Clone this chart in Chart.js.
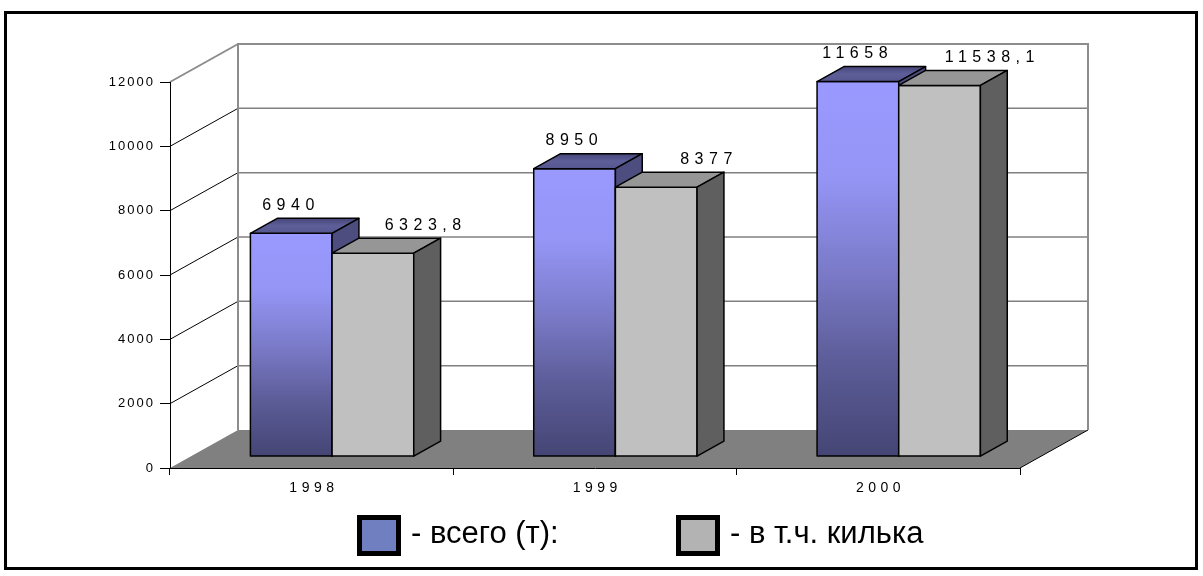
<!DOCTYPE html>
<html>
<head>
<meta charset="utf-8">
<script src="https://cdn.jsdelivr.net/npm/chart.js@4.4.1/dist/chart.umd.min.js"></script>
<style>
  html, body { margin: 0; padding: 0; background: #fff; }
  canvas { display: block; }
</style>
</head>
<body>
<canvas id="catchChart" width="1203" height="576"></canvas>
<script>
const years = ['1998', '1999', '2000'];
const totalCatch = [6940, 8950, 11658];
const spratCatch = [6323.8, 8377, 11538.1];
const seriesNames = ['- всего (т):', '- в т.ч. килька'];
const yTicks = [0, 2000, 4000, 6000, 8000, 10000, 12000];

const FONT = "'Liberation Sans', Arial, sans-serif";

// floor depth in px and the slab of it the boxes stand in
const DEPTH = { dx: 68, dy: -38 };
const BAR_Z = [0.3, 0.695];

const palette = [
  { front: ['#9999ff', '#9595f6', '#7b7bca', '#5c5c98', '#454575'], top: ['#56568f', '#5e5e99', '#46467a'], side: '#4d4d80', legend: '#6f7fbf', labelShift: -3 },
  { front: ['#c0c0c0'], top: ['#969696'], side: '#5f5f5f', legend: '#b3b3b3', labelShift: 50 }
];

const LEGEND = { x: [357, 676], y: 515, w: 44, h: 41, border: 5, gap: 10, baseline: 543, size: 31 };

function fmt(v) {
  return String(v).replace('.', ',');
}

function fillOf(ctx, stops, y1, y2) {
  if (stops.length === 1) return stops[0];
  const g = ctx.createLinearGradient(0, y1, 0, y2);
  stops.forEach((c, k) => g.addColorStop(k / (stops.length - 1), c));
  return g;
}

// run a scale's label drawing with extra letter spacing
function spaceLabels(scale, px) {
  if (scale.$spaced) return;
  const draw = scale.drawLabels;
  scale.drawLabels = function (area) {
    this.ctx.save();
    this.ctx.letterSpacing = px + 'px';
    this.ctx.translate(this.isHorizontal() ? px / 2 : px, 0);
    draw.call(this, area);
    this.ctx.restore();
  };
  scale.$spaced = true;
}

const box3d = {
  id: 'box3d',
  beforeDraw(chart) {
    const { ctx, chartArea: a } = chart;
    const yS = chart.scales.y;
    const { dx, dy } = DEPTH;
    const last = yTicks[yTicks.length - 1];
    const y0 = yS.getPixelForValue(yTicks[0]);
    const yTop = yS.getPixelForValue(last);

    ctx.save();
    ctx.fillStyle = '#fff';
    ctx.fillRect(0, 0, chart.width, chart.height);

    // outer frame
    ctx.strokeStyle = '#000';
    ctx.lineWidth = 3;
    ctx.strokeRect(5.5, 12.5, 1191, 556);

    // floor
    ctx.fillStyle = '#808080';
    ctx.beginPath();
    ctx.moveTo(a.left, y0);
    ctx.lineTo(a.right, y0);
    ctx.lineTo(a.right + dx, y0 + dy);
    ctx.lineTo(a.left + dx, y0 + dy);
    ctx.closePath();
    ctx.fill();
    ctx.strokeStyle = '#000';
    ctx.lineWidth = 1;
    ctx.beginPath();
    ctx.moveTo(a.right, y0);
    ctx.lineTo(a.right + dx, y0 + dy);
    ctx.stroke();

    // side wall gridlines
    yTicks.slice(1).forEach(v => {
      const py = yS.getPixelForValue(v);
      ctx.strokeStyle = v === last ? '#8c8c8c' : '#000';
      ctx.lineWidth = v === last ? 2 : 1;
      ctx.beginPath();
      ctx.moveTo(a.left, py);
      ctx.lineTo(a.left + dx, py + dy);
      ctx.stroke();
    });

    // back wall gridlines
    ctx.strokeStyle = '#808080';
    ctx.lineWidth = 1.5;
    yTicks.slice(1, -1).forEach(v => {
      const py = yS.getPixelForValue(v) + dy;
      ctx.beginPath();
      ctx.moveTo(a.left + dx, py);
      ctx.lineTo(a.right + dx, py);
      ctx.stroke();
    });

    // back wall outline
    ctx.strokeStyle = '#8c8c8c';
    ctx.lineWidth = 2;
    ctx.beginPath();
    ctx.moveTo(a.left + dx, y0 + dy);
    ctx.lineTo(a.left + dx, yTop + dy);
    ctx.lineTo(a.right + dx, yTop + dy);
    ctx.lineTo(a.right + dx, y0 + dy);
    ctx.stroke();
    ctx.restore();
  },

  afterDatasetsDraw(chart) {
    const { ctx } = chart;
    const { dx, dy } = DEPTH;
    const [z1, z2] = BAR_Z;
    const P = (px, py, z) => [px + z * dx, py + z * dy];
    const face = (pts, fill) => {
      ctx.beginPath();
      ctx.moveTo(pts[0][0], pts[0][1]);
      pts.slice(1).forEach(p => ctx.lineTo(p[0], p[1]));
      ctx.closePath();
      ctx.fillStyle = fill;
      ctx.fill();
      ctx.stroke();
    };

    ctx.save();
    ctx.strokeStyle = '#000';
    ctx.lineWidth = 1.5;
    ctx.lineJoin = 'round';
    const labels = [];
    years.forEach((_, i) => {
      chart.data.datasets.forEach((ds, d) => {
        const { x, y, base, width } = chart.getDatasetMeta(d).data[i].getProps(['x', 'y', 'base', 'width'], true);
        const l = x - width / 2, r = x + width / 2;
        const c = palette[d];
        face([P(l, y, z1), P(r, y, z1), P(r, base, z1), P(l, base, z1)],
             fillOf(ctx, c.front, y + z1 * dy, base + z1 * dy));
        face([P(l, y, z1), P(r, y, z1), P(r, y, z2), P(l, y, z2)],
             fillOf(ctx, c.top, y + z1 * dy, y + z2 * dy));
        face([P(r, y, z1), P(r, y, z2), P(r, base, z2), P(r, base, z1)], c.side);
        labels.push({ text: fmt(ds.data[i]), x: x + z1 * dx + c.labelShift, y: y + z2 * dy - 13 });
      });
    });

    // value labels above the boxes
    const sp = 5.5;
    ctx.letterSpacing = sp + 'px';
    ctx.font = `16px ${FONT}`;
    ctx.fillStyle = '#000';
    ctx.textAlign = 'center';
    ctx.textBaseline = 'middle';
    labels.forEach(t => ctx.fillText(t.text, t.x + sp / 2, t.y));
    ctx.restore();
  },

  afterDraw(chart) {
    const { ctx } = chart;
    ctx.save();
    ctx.letterSpacing = '0px';
    ctx.font = `${LEGEND.size}px ${FONT}`;
    ctx.textAlign = 'left';
    ctx.textBaseline = 'alphabetic';
    chart.data.datasets.forEach((ds, d) => {
      const bx = LEGEND.x[d];
      ctx.fillStyle = '#000';
      ctx.fillRect(bx, LEGEND.y, LEGEND.w, LEGEND.h);
      ctx.fillStyle = palette[d].legend;
      ctx.fillRect(bx + LEGEND.border, LEGEND.y + LEGEND.border,
                   LEGEND.w - 2 * LEGEND.border, LEGEND.h - 2 * LEGEND.border);
      ctx.fillStyle = '#000';
      ctx.fillText(ds.label, bx + LEGEND.w + LEGEND.gap, LEGEND.baseline);
    });
    ctx.restore();
  }
};

new Chart(document.getElementById('catchChart'), {
  type: 'bar',
  data: {
    labels: years,
    datasets: [
      { label: seriesNames[0], data: totalCatch },
      { label: seriesNames[1], data: spratCatch }
    ].map(ds => Object.assign(ds, {
      backgroundColor: 'rgba(0,0,0,0)',
      borderWidth: 0,
      barPercentage: 1,
      categoryPercentage: 0.5765
    }))
  },
  options: {
    responsive: false,
    devicePixelRatio: 1,
    animation: false,
    events: [],
    layout: { padding: { left: 20, right: 183, top: 82, bottom: 68 } },
    plugins: {
      legend: { display: false },
      tooltip: { enabled: false }
    },
    scales: {
      x: {
        offset: true,
        grid: { offset: true, drawOnChartArea: false, tickLength: 7, color: '#000' },
        border: { color: '#000', width: 1 },
        ticks: { color: '#000', font: { family: FONT, size: 14 }, padding: 5, maxRotation: 0 },
        afterFit: s => { s.height = 40; spaceLabels(s, 4.5); }
      },
      y: {
        min: yTicks[0],
        max: yTicks[yTicks.length - 1],
        afterBuildTicks: s => { s.ticks = yTicks.map(value => ({ value })); },
        grid: { drawOnChartArea: false, tickLength: 10, color: '#000' },
        border: { color: '#000', width: 1 },
        ticks: { color: '#000', font: { family: FONT, size: 13 }, padding: 7, callback: v => String(v) },
        afterFit: s => { s.width = 150; spaceLabels(s, 2); }
      }
    }
  },
  plugins: [box3d]
});
</script>
</body>
</html>
